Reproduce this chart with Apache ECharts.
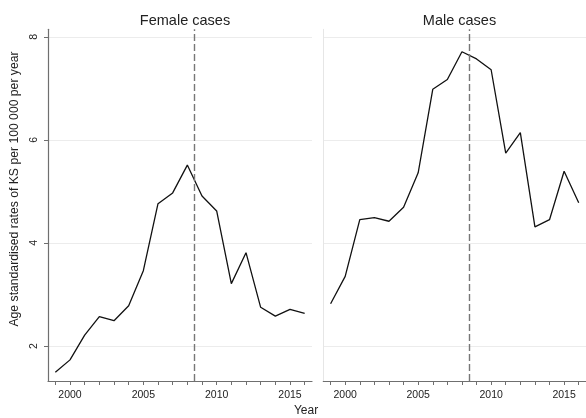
<!DOCTYPE html>
<html>
<head>
<meta charset="utf-8">
<script src="https://cdn.jsdelivr.net/npm/echarts@6/dist/echarts.min.js"></script>
<style>
  html, body { margin: 0; padding: 0; background: #fff; }
  #chart { width: 586px; height: 418px; }
</style>
</head>
<body>
<div id="chart"></div>
<script>
// Annual age standardised KS incidence, 1999-2016
const years = [1999, 2000, 2001, 2002, 2003, 2004, 2005, 2006, 2007, 2008,
               2009, 2010, 2011, 2012, 2013, 2014, 2015, 2016];
const femaleRates = [1.49, 1.73, 2.21, 2.57, 2.49, 2.78, 3.46, 4.76, 4.97, 5.51,
                     4.91, 4.62, 3.21, 3.81, 2.75, 2.58, 2.71, 2.63];
const maleRates = [2.82, 3.35, 4.45, 4.49, 4.42, 4.69, 5.36, 6.98, 7.17, 7.71,
                   7.57, 7.36, 5.74, 6.14, 4.31, 4.45, 5.39, 4.78];
const yearLabels = [2000, 2005, 2010, 2015];
const rateLabels = [2, 4, 6, 8];
const panelTitles = ['Female cases', 'Male cases'];
const breakYear = 2008.5;

const FONT = 'Liberation Sans, Arial, Helvetica, sans-serif';
const axisGray = '#6f6f6f';

const chart = echarts.init(document.getElementById('chart'), null, { renderer: 'canvas' });

const grids = [
  { left: 48, right: 274, top: 29.3, bottom: 37 },
  { left: 323.3, right: 0, top: 29.3, bottom: 37 }
];

function xAxisFor(i) {
  return {
    type: 'value',
    gridIndex: i,
    min: 1998.5,
    max: 2016.5,
    axisLine: { show: true, lineStyle: { color: axisGray, width: 1.2 } },
    axisTick: { show: true, length: 4, customValues: years, lineStyle: { color: axisGray } },
    axisLabel: {
      customValues: yearLabels, margin: 9,
      formatter: v => String(v),
      fontFamily: FONT, fontSize: 10.5, color: '#222'
    },
    splitLine: { show: false }
  };
}

function yAxisFor(i) {
  const left = i === 0;
  return {
    type: 'value',
    gridIndex: i,
    min: 1.32,
    max: 8.145,
    axisLine: { show: true, lineStyle: { color: left ? axisGray : '#e6e6e6', width: left ? 1.2 : 1 } },
    axisTick: { show: left, length: 4, customValues: rateLabels, lineStyle: { color: axisGray } },
    axisLabel: {
      show: left, customValues: rateLabels, rotate: 90, margin: 8,
      formatter: v => String(v),
      fontFamily: FONT, fontSize: 10.5, color: '#222'
    },
    splitLine: { show: true, lineStyle: { color: '#ececec', width: 1 } }
  };
}

function seriesFor(i, values) {
  return {
    type: 'line',
    xAxisIndex: i,
    yAxisIndex: i,
    data: years.map((y, k) => [y, values[k]]),
    showSymbol: false,
    symbol: 'none',
    lineStyle: { color: '#111', width: 1.3 },
    silent: true,
    animation: false,
    markLine: {
      silent: true,
      symbol: 'none',
      label: { show: false },
      lineStyle: { color: '#777', type: [7, 3], width: 1.4 },
      data: [{ xAxis: breakYear }]
    }
  };
}

chart.setOption({
  animation: false,
  title: [
    { text: panelTitles[0], left: 180, top: 8, textAlign: 'center',
      textStyle: { fontFamily: FONT, fontSize: 14.5, fontWeight: 'normal', color: '#222' } },
    { text: panelTitles[1], left: 454.5, top: 8, textAlign: 'center',
      textStyle: { fontFamily: FONT, fontSize: 14.5, fontWeight: 'normal', color: '#222' } }
  ],
  grid: grids,
  xAxis: [xAxisFor(0), xAxisFor(1)],
  yAxis: [yAxisFor(0), yAxisFor(1)],
  series: [seriesFor(0, femaleRates), seriesFor(1, maleRates)],
  graphic: [
    {
      type: 'text',
      x: 15, y: 189,
      rotation: Math.PI / 2,
      style: {
        text: 'Age standardised rates of KS per 100 000 per year',
        fontFamily: FONT, fontSize: 12.2, fill: '#222',
        align: 'center', verticalAlign: 'middle'
      }
    },
    {
      type: 'text',
      x: 306, y: 411,
      style: {
        text: 'Year',
        fontFamily: FONT, fontSize: 12, fill: '#222',
        align: 'center', verticalAlign: 'middle'
      }
    }
  ]
});
</script>
</body>
</html>
